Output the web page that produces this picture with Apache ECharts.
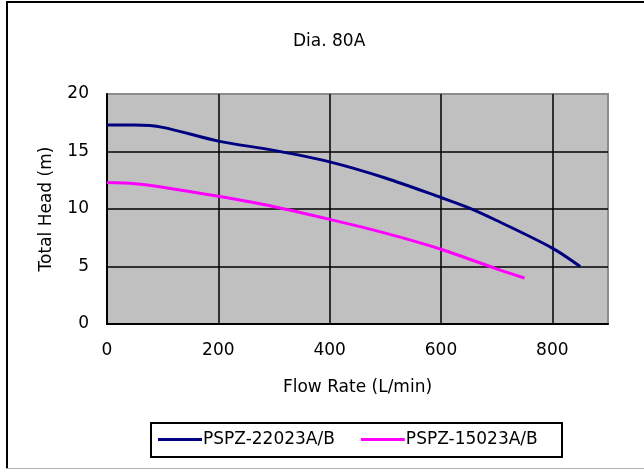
<!DOCTYPE html>
<html>
<head>
<meta charset="utf-8">
<script src="https://cdn.jsdelivr.net/npm/echarts@6/dist/echarts.min.js"></script>
<style>
html,body{margin:0;padding:0;background:#fff;}
#chart{width:644px;height:470px;}
</style>
</head>
<body>
<div id="chart"></div>
<script>
const titleText = 'Dia. 80A';
const xAxisName = 'Flow Rate (L/min)';
const yAxisName = 'Total Head (m)';
const seriesNames = ['PSPZ-22023A/B', 'PSPZ-15023A/B'];
const flowA = [0, 50, 100, 200, 300, 400, 500, 600, 650, 700, 800, 850];
const headA = [17.3, 17.3, 17.1, 15.9, 15.1, 14.1, 12.7, 11.0, 10.1, 9.0, 6.6, 5.0];
const flowB = [0, 50, 100, 200, 300, 400, 500, 600, 700, 750];
const headB = [12.3, 12.2, 11.9, 11.1, 10.2, 9.1, 7.9, 6.5, 4.8, 4.0];

const FONT = 'DejaVu Sans';
const chart = echarts.init(document.getElementById('chart'), null, {renderer: 'canvas'});
const zip = (xs, ys) => xs.map((x, i) => [x, ys[i]]);

chart.setOption({
  backgroundColor: '#ffffff',
  animation: false,
  textStyle: {fontFamily: FONT, color: '#000'},
  title: {
    text: titleText, left: 288, top: 28,
    textStyle: {fontFamily: FONT, fontSize: 17, fontWeight: 'normal', color: '#000'}
  },
  graphic: [
    {type: 'line', shape: {x1: 7, y1: 1, x2: 7, y2: 468}, style: {stroke: '#000', lineWidth: 2}},
    {type: 'line', shape: {x1: 6, y1: 2, x2: 644, y2: 2}, style: {stroke: '#000', lineWidth: 2}},
    {type: 'line', shape: {x1: 6, y1: 468.5, x2: 644, y2: 468.5}, style: {stroke: '#b0b0b0', lineWidth: 1}},
    {type: 'rect', shape: {x: 151, y: 423, width: 411, height: 34}, style: {fill: 'none', stroke: '#000', lineWidth: 2}}
  ],
  grid: {
    left: 107, top: 94, right: 36, bottom: 146,
    show: true, backgroundColor: '#c0c0c0', borderColor: '#8c8c8c', borderWidth: 2
  },
  legend: {
    left: 158, top: 431, padding: 0,
    icon: 'rect', itemWidth: 44, itemHeight: 3, itemGap: 26,
    textStyle: {fontFamily: FONT, fontSize: 17, color: '#000', padding: [0, 0, 0, -4]},
    data: seriesNames
  },
  xAxis: {
    type: 'value', min: 0, max: 900, interval: 200,
    name: xAxisName, nameLocation: 'middle', nameGap: 55,
    nameTextStyle: {fontFamily: FONT, fontSize: 17, color: '#000'},
    axisLine: {show: true, lineStyle: {color: '#000', width: 2}},
    axisTick: {show: false},
    axisLabel: {margin: 18, fontFamily: FONT, fontSize: 17, color: '#000', showMaxLabel: false,
      formatter: v => (v % 200 === 0 ? String(v) : '')},
    splitLine: {show: true, showMinLine: false, showMaxLine: false, lineStyle: {color: '#000', width: 1.5}}
  },
  yAxis: {
    type: 'value', min: 0, max: 20, interval: 5,
    name: yAxisName, nameLocation: 'middle', nameGap: 52,
    nameTextStyle: {fontFamily: FONT, fontSize: 17, color: '#000'},
    axisLine: {show: true, lineStyle: {color: '#000', width: 2}},
    axisTick: {show: false},
    axisLabel: {margin: 18, fontFamily: FONT, fontSize: 17, color: '#000'},
    splitLine: {show: true, showMinLine: false, showMaxLine: false, lineStyle: {color: '#000', width: 1.5}}
  },
  series: [
    {
      name: seriesNames[0], type: 'line', data: zip(flowA, headA),
      symbol: 'none', smooth: 0.3,
      lineStyle: {color: '#000080', width: 3}, itemStyle: {color: '#000080'}
    },
    {
      name: seriesNames[1], type: 'line', data: zip(flowB, headB),
      symbol: 'none', smooth: 0.3,
      lineStyle: {color: '#ff00ff', width: 3}, itemStyle: {color: '#ff00ff'}
    }
  ]
});
</script>
</body>
</html>
